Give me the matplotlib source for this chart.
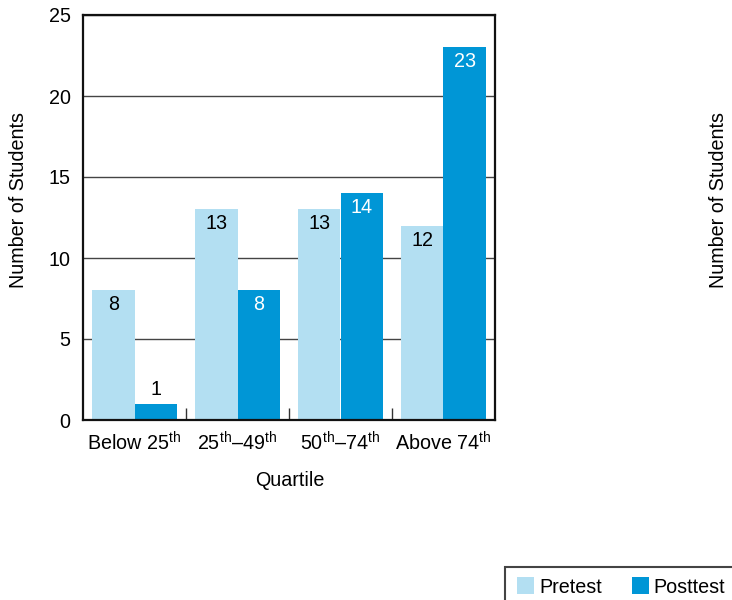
import matplotlib.pyplot as plt
import numpy as np
from matplotlib.patches import Rectangle

plt.rcParams['font.family'] = ['Liberation Sans', 'DejaVu Sans']
plt.rcParams['mathtext.fontset'] = 'custom'
plt.rcParams['mathtext.rm'] = 'Liberation Sans'

quartiles = ["Below 25$^{\\mathrm{th}}$", "25$^{\\mathrm{th}}$\u201349$^{\\mathrm{th}}$",
             "50$^{\\mathrm{th}}$\u201374$^{\\mathrm{th}}$", "Above 74$^{\\mathrm{th}}$"]
pretest = [8, 13, 13, 12]
posttest = [1, 8, 14, 23]
series_names = ["Pretest", "Posttest"]

PRE_COLOR = "#b3dff2"
POST_COLOR = "#0096d6"
FS = 14.2
W, H = 732, 600

fig = plt.figure(figsize=(W / 100, H / 100), dpi=100)
ax = fig.add_axes([83 / W, 1 - 420 / H, 412 / W, 405 / H])

x = np.arange(len(quartiles))
w = 0.41
pre_bars = ax.bar(x - w / 2, pretest, w, color=PRE_COLOR, zorder=2)
post_bars = ax.bar(x + w / 2, posttest, w, color=POST_COLOR, zorder=2)

# value labels sit just inside the top of each bar, unless the bar is too short
for bar, v in zip(pre_bars, pretest):
    ax.text(bar.get_x() + bar.get_width() / 2, v - 0.9, str(v), ha="center", va="center",
            fontsize=FS, color="black", zorder=3)
for bar, v in zip(post_bars, posttest):
    if v < 2:
        ax.text(bar.get_x() + bar.get_width() / 2, v + 0.9, str(v), ha="center", va="center",
                fontsize=FS, color="black", zorder=3)
    else:
        ax.text(bar.get_x() + bar.get_width() / 2, v - 0.9, str(v), ha="center", va="center",
                fontsize=FS, color="white", zorder=3)

ax.set_xlim(-0.5, 3.5)
ax.set_ylim(0, 25)
ax.set_yticks([0, 5, 10, 15, 20, 25])
ax.yaxis.grid(True, color="#444444", linewidth=1, zorder=1)
ax.set_axisbelow(True)
ax.tick_params(axis="y", length=0, labelsize=FS, pad=9)

ax.set_xticks(x)
ax.set_xticklabels(quartiles, fontsize=FS)
ax.tick_params(axis="x", which="major", length=0, pad=8)
ax.set_xticks([0.5, 1.5, 2.5], minor=True)
ax.tick_params(axis="x", which="minor", direction="in", length=9, width=1, color="#333333")

for s in ax.spines.values():
    s.set_linewidth(1.6)
    s.set_color("#111111")

fig.text(290 / W, 1 - 481 / H, "Quartile", ha="center", va="center", fontsize=FS)
fig.text(19 / W, 1 - 200 / H, "Number of Students", rotation=90, ha="center", va="center", fontsize=FS)
fig.text(718 / W, 1 - 200 / H, "Number of Students", rotation=90, ha="center", va="center", fontsize=FS)


# legend box, built by hand in pixel units so it runs off the lower right corner
def px_rect(x0, y0, x1, y1, **kw):
    return Rectangle((x0 / W, 1 - y1 / H), (x1 - x0) / W, (y1 - y0) / H,
                     transform=fig.transFigure, **kw)


fig.patches.append(px_rect(505, 567, W + 50, H + 50, facecolor="white",
                           edgecolor="#444444", linewidth=1.5))
for (sx, tx), name, color in zip([(517, 539), (632, 653)], series_names, [PRE_COLOR, POST_COLOR]):
    fig.patches.append(px_rect(sx, 577, sx + 17, 594, facecolor=color, edgecolor="none"))
    fig.text(tx / W, 1 - 593 / H, name, ha="left", va="baseline", fontsize=FS)

fig.savefig("out.png", dpi=100)
